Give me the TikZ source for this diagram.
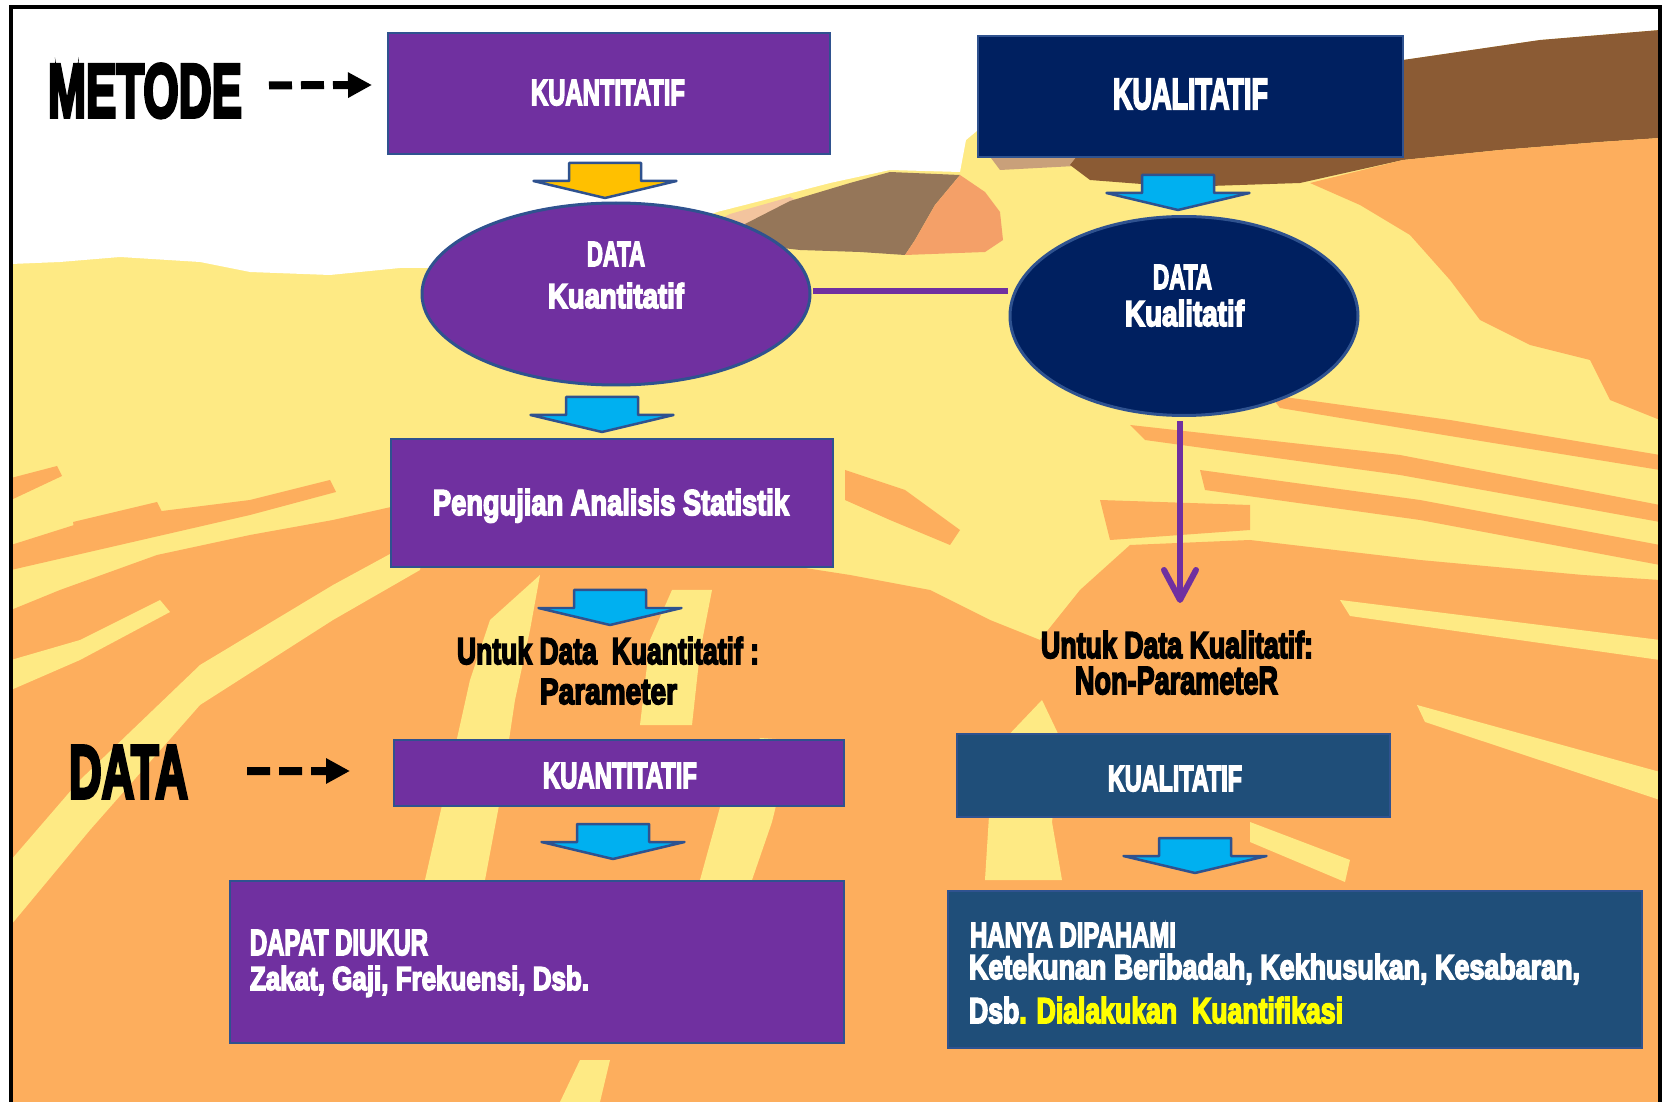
\documentclass[tikz,border=0pt]{standalone}
\usepackage{fontspec}
\usepackage{graphicx}
\usetikzlibrary{arrows.meta,calc,shapes.geometric,fit}

\newfontfamily\impactfont{Liberation Sans}[BoldFeatures={FakeBold=5}]
\newlength\dgpx
\setlength\dgpx{0.1mm}
% set a line of heavy condensed type into a box of given width and height (in px)
\newcommand\fitline[3]{\resizebox{#1\dgpx}{#2\dgpx}{\impactfont\bfseries #3}}

\definecolor{sand}{HTML}{FEEA84}
\definecolor{dune}{HTML}{FDAE5D}
\definecolor{hillbrown}{HTML}{957659}
\definecolor{ridge}{HTML}{8B5B34}
\definecolor{salmon}{HTML}{F4A068}
\definecolor{peach}{HTML}{F3C49E}
\definecolor{tanbrown}{HTML}{C9A07A}
\definecolor{kpurple}{HTML}{7030A0}
\definecolor{knavy}{HTML}{002060}
\definecolor{kblue}{HTML}{1F4E79}
\definecolor{edge}{HTML}{2F528F}
\definecolor{cyanfill}{HTML}{00B0F0}
\definecolor{goldfill}{HTML}{FFC000}
\definecolor{hilite}{HTML}{FFFF00}

\tikzset{
  panel/.style={draw=edge, line width=0.25mm, inner sep=0pt, outer sep=0pt},
  oval/.style={ellipse, draw=edge, line width=0.3mm, inner sep=0pt, outer sep=0pt},
  txt/.style={inner sep=0pt, outer sep=0pt, anchor=base west, text=white},
  dark/.style={text=black},
  kline/.style={draw=kpurple, line width=0.6mm},
  dasharrow/.style={line width=0.8mm, dash pattern=on 2.3mm off 0.9mm,
    -{Triangle[length=2.4mm,width=2.4mm]}},
  blockarrow/.pic={\draw[pic actions] (-36,0) -- (36,0) -- (36,18) -- (71.5,18)
     -- (0,35) -- (-71.5,18) -- (-36,18) -- cycle;},
  cyanarrow/.style={draw=edge, line width=0.25mm, fill=cyanfill, line join=round},
  goldarrow/.style={draw=edge, line width=0.25mm, fill=goldfill, line join=round},
}

\begin{document}
\begin{tikzpicture}[x=0.1mm, y=-0.1mm]
\useasboundingbox (0,0) rectangle (1663,1102);
\fill[white] (0,0) rectangle (1663,1102);

% ---------- painted landscape behind the chart ----------
\begin{scope}
\clip (11,7) rectangle (1660,1102);
\fill[sand] (11,7) rectangle (1660,1102);
% sky
\fill[white] (11,7) -- (1660,7) -- (1660,30) -- (1540,40) -- (1403,60) -- (1300,85)
  -- (1200,110) -- (1090,135) -- (1000,128) -- (978,130) -- (966,140) -- (960,172)
  -- (890,170) -- (830,183) -- (780,196) -- (717,212) -- (680,226) -- (640,245)
  -- (560,262) -- (480,268) -- (400,268) -- (330,275) -- (250,272) -- (200,262)
  -- (120,257) -- (60,262) -- (11,264) -- cycle;
% hill
\fill[peach] (700,230) -- (730,214) -- (790,197) -- (805,205) -- (770,222) -- (745,240) -- (712,242) -- cycle;
\fill[hillbrown] (745,224) -- (790,201) -- (850,183) -- (890,172) -- (960,175) -- (935,205)
  -- (915,240) -- (905,255) -- (860,252) -- (800,250) -- (765,246) -- cycle;
\fill[salmon] (960,175) -- (985,192) -- (1000,212) -- (1003,240) -- (985,252) -- (905,255)
  -- (915,240) -- (935,205) -- cycle;
\fill[tanbrown] (985,150) -- (1080,146) -- (1075,166) -- (1000,170) -- cycle;
% ridge
\fill[ridge] (1660,30) -- (1540,40) -- (1403,60) -- (1300,85) -- (1200,110) -- (1090,140)
  -- (1070,165) -- (1090,180) -- (1180,187) -- (1300,183) -- (1403,160) -- (1500,150)
  -- (1600,142) -- (1660,138) -- cycle;
\fill[ridge] (1462,168) -- (1530,160) -- (1532,172) -- (1470,178) -- cycle;
% upper right slope
\fill[dune] (1310,183) -- (1403,160) -- (1500,150) -- (1600,142) -- (1660,138) -- (1660,420)
  -- (1610,400) -- (1590,360) -- (1530,345) -- (1480,320) -- (1450,280) -- (1410,235)
  -- (1360,205) -- cycle;
% lower slopes
\fill[dune] (11,610) -- (60,590) -- (157,555) -- (250,535) -- (333,520) -- (400,505)
  -- (850,575) -- (930,590) -- (990,620) -- (1040,640) -- (1080,590) -- (1130,545)
  -- (1250,540) -- (1420,560) -- (1583,575) -- (1660,580)
  -- (1660,1102) -- (11,1102) -- cycle;
% streaks in the upper field
\fill[dune] (11,478) -- (57,466) -- (62,476) -- (11,500) -- cycle;
\fill[dune] (73,522) -- (157,502) -- (162,512) -- (75,534) -- cycle;
\fill[dune] (11,545) -- (90,520) -- (250,500) -- (330,480) -- (336,492) -- (250,515) -- (11,570) -- cycle;
\fill[dune] (845,470) -- (905,490) -- (960,530) -- (950,545) -- (890,520) -- (845,500) -- cycle;
\fill[dune] (1130,425) -- (1400,455) -- (1660,505) -- (1660,522) -- (1400,475) -- (1145,440) -- cycle;
\fill[dune] (1200,470) -- (1420,500) -- (1660,545) -- (1660,565) -- (1420,520) -- (1205,490) -- cycle;
\fill[dune] (1270,395) -- (1450,420) -- (1660,455) -- (1660,470) -- (1450,436) -- (1280,408) -- cycle;
\fill[dune] (1100,500) -- (1250,505) -- (1250,530) -- (1110,540) -- cycle;
% light streaks in the lower slopes
\fill[sand] (11,925) -- (90,830) -- (200,705) -- (333,620) -- (420,570) -- (425,535)
  -- (333,585) -- (200,665) -- (80,780) -- (11,860) -- cycle;
\fill[sand] (11,660) -- (80,640) -- (160,600) -- (170,612) -- (80,660) -- (11,690) -- cycle;
\fill[sand] (425,880) -- (450,770) -- (470,680) -- (490,620) -- (540,575) -- (530,630)
  -- (515,700) -- (500,800) -- (485,880) -- cycle;
\fill[sand] (640,725) -- (650,640) -- (672,590) -- (712,590) -- (700,652) -- (692,725) -- cycle;
\fill[sand] (700,880) -- (722,800) -- (760,738) -- (792,740) -- (772,822) -- (752,880) -- cycle;
\fill[sand] (985,880) -- (990,800) -- (1002,742) -- (1042,700) -- (1062,742) -- (1052,822)
  -- (1062,880) -- cycle;
\fill[sand] (1340,600) -- (1660,640) -- (1660,660) -- (1350,616) -- cycle;
\fill[sand] (1417,705) -- (1660,772) -- (1660,800) -- (1425,722) -- cycle;
\fill[sand] (1250,822) -- (1350,860) -- (1345,882) -- (1250,842) -- cycle;
\fill[sand] (560,1102) -- (580,1060) -- (610,1060) -- (600,1102) -- cycle;
\end{scope}

% frame
\draw[line width=0.45mm] (11,1102) -- (11,7) -- (1660,7) -- (1660,1102);

% ---------- chart ----------
\node[panel, fill=kpurple, fit={(388,33) (830,154)}] (quantbox) {};
\node[panel, fill=knavy, fit={(978,36) (1403,157)}] (qualbox) {};
\node[oval, fill=kpurple, minimum width=38.8mm, minimum height=18.2mm] (dq) at (616,294) {};
\node[oval, fill=knavy, minimum width=34.8mm, minimum height=19.9mm] (dl) at (1184,316) {};
\node[panel, fill=kpurple, fit={(391,439) (833,567)}] (testbox) {};
\node[panel, fill=kpurple, fit={(394,740) (844,806)}] (quantdata) {};
\node[panel, fill=kblue, fit={(957,734) (1390,817)}] (qualdata) {};
\node[panel, fill=kpurple, fit={(230,881) (844,1043)}] (measbox) {};
\node[panel, fill=kblue, fit={(948,891) (1642,1048)}] (undbox) {};

% block arrows
\pic[goldarrow] at (605,163) {blockarrow};
\pic[cyanarrow] at (1178,175) {blockarrow};
\pic[cyanarrow] at (602,397) {blockarrow};
\pic[cyanarrow] at (610,590) {blockarrow};
\pic[cyanarrow] at (613,824) {blockarrow};
\pic[cyanarrow] at (1195,838) {blockarrow};

% labels
\node[txt, dark] (tmetode) at (48,117) {\fitline{194}{53}{METODE}};
\node[txt] (tquant) at (531,105) {\fitline{154}{25}{KUANTITATIF}};
\node[txt] (tqual) at (1113,109) {\fitline{155}{30}{KUALITATIF}};
\node[txt] (tdq1) at (587,266) {\fitline{58}{24}{DATA}};
\node[txt] (tdq2) at (548,308) {\fitline{136}{25}{Kuantitatif}};
\node[txt] (tdl1) at (1153,289) {\fitline{59}{24}{DATA}};
\node[txt] (tdl2) at (1125,326) {\fitline{119}{26}{Kualitatif}};
\node[txt] (ttest) at (433,515) {\fitline{356}{26}{Pengujian Analisis Statistik}};
\node[txt, dark] (tpar1) at (457,664) {\fitline{302}{27}{Untuk Data\ \ Kuantitatif :}};
\node[txt, dark] (tpar2) at (540,704) {\fitline{137}{25}{Parameter}};
\node[txt, dark] (tnon1) at (1041,658) {\fitline{272}{27}{Untuk Data Kualitatif:}};
\node[txt, dark] (tnon2) at (1075,694) {\fitline{203}{27}{Non-ParameteR}};
\node[txt, dark] (tdata) at (69,798) {\fitline{119}{52}{DATA}};
\node[txt] (tquant2) at (543,788) {\fitline{154}{25}{KUANTITATIF}};
\node[txt] (tqual2) at (1108,791) {\fitline{134}{25}{KUALITATIF}};
\node[txt] (tmeas1) at (250,955) {\fitline{178}{25}{DAPAT DIUKUR}};
\node[txt] (tmeas2) at (250,990) {\fitline{339}{24}{Zakat, Gaji, Frekuensi, Dsb.}};
\node[txt] (tund1) at (970,947) {\fitline{206}{24}{HANYA DIPAHAMI}};
\node[txt] (tund2) at (969,979) {\fitline{611}{25}{Ketekunan Beribadah, Kekhusukan, Kesabaran,}};
\node[txt] (tund3) at (969,1023) {\fitline{374}{26}{Dsb{\color{hilite}. Dialakukan\ \ Kuantifikasi}}};

% connectors
\draw[dasharrow] ($(tmetode.east)+(27,-5.5)$) -- ($(quantbox.west)+(-16,-8.5)$);
\draw[dasharrow] ($(tdata.east)+(59,-1)$) -- ($(quantdata.west)+(-44,-2)$);
\draw[kline] ($(dq.east)+(3,-3)$) -- ($(dl.west)+(-2,-25)$);
\coordinate (nontip) at (1180,603);
\draw[kline, -{Straight Barb[length=3mm,width=3.2mm,round]}] ($(dl.south)+(-4,6)$) -- (nontip);
\end{tikzpicture}
\end{document}
